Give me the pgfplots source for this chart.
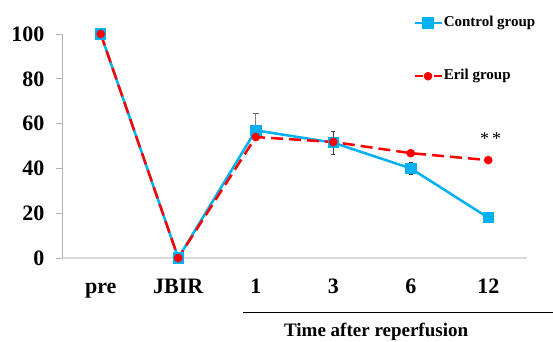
\documentclass[border=0pt]{standalone}
\usepackage{fontspec}
\setmainfont{Liberation Serif}
\usepackage{pgfplots}
\pgfplotsset{compat=1.18}
\definecolor{cgrp}{RGB}{0,176,240}
\definecolor{egrp}{RGB}{255,0,0}
\pgfplotsset{
  ctrlleg/.style={legend image code/.code={\draw[#1, mark repeat=2, mark phase=2] plot coordinates {(0pt,0pt) (13.5pt,0pt) (27pt,0pt)};}},
  erilleg/.style={legend image code/.code={\draw[#1, dash pattern=on 8pt off 11pt, mark repeat=2, mark phase=2] plot coordinates {(0pt,0pt) (13.5pt,0pt) (27pt,0pt)};}},
}
\begin{document}
\begin{tikzpicture}
\begin{axis}[name=ax, width=465pt, height=224pt, scale only axis,
  xmin=-0.5, xmax=5.5, ymin=0, ymax=100,
  xtick={0,...,5}, xticklabels={pre,JBIR,1,3,6,12},
  ytick={0,20,...,100},
  axis x line*=bottom, axis y line*=left,
  x axis line style={draw=black!15, line width=1.6pt, -},
  y axis line style={draw=black!30, line width=0.8pt, -},
  xtick style={draw=none},
  ytick style={draw=black!30, line width=0.8pt},
  tick align=outside, major tick length=6pt,
  /pgf/number format/assume math mode=true,
  tick label style={font=\fontsize{22}{26}\selectfont\bfseries},
  xticklabel style={anchor=base, yshift=-29pt},
  yticklabel style={xshift=-8pt},
  clip=false,
  legend cell align=left,
  legend style={at={(0.755,1.087)}, anchor=north west, draw=none, fill=none,
    inner sep=0pt, row sep=36pt, font=\fontsize{15}{18}\selectfont\bfseries,
    nodes={inner sep=1pt, text height=11pt, text depth=4pt}},
]
\addplot[color=cgrp, line width=2.5pt, mark=square*, mark size=4.5pt,
  mark options={solid}, ctrlleg]
  coordinates {(0,100) (1,0) (2,57) (3,51.5) (4,40) (5,18)};
\addlegendentry{Control group}
\addplot[color=egrp, line width=2.5pt, dash pattern=on 12pt off 6pt, mark=*, mark size=3pt,
  mark options={solid}, erilleg]
  coordinates {(0,100) (1,0) (2,54) (3,51.8) (4,46.8) (5,43.7)};
\addlegendentry{Eril group}
\addplot[draw=none, mark=none, forget plot,
  error bars/.cd, y dir=both, y explicit,
  error bar style={draw=black!75, line width=0.7pt},
  error mark options={draw=black!75, line width=0.7pt, mark size=2pt, rotate=90}]
  coordinates {(3,51.5) +- (0,5.2) (4,40) +- (0,2.5) (5,18) +- (0,1.9)};
\addplot[draw=none, mark=none, forget plot,
  error bars/.cd, y dir=plus, y explicit,
  error bar style={draw=black!50, line width=1.4pt},
  error mark options={draw=black!60, line width=0.9pt, mark size=3pt, rotate=90}]
  coordinates {(2,57) +- (0,7.5)};
\node[font=\fontsize{18}{20}\selectfont] at (axis cs:5.03,53.5) {*\,*};
\draw[black, line width=1pt] (axis cs:1.835,-24.55) -- (axis cs:5.84,-24.55);
\node[anchor=base, font=\fontsize{19}{22}\selectfont\bfseries] at (axis cs:3.553,-35.1) {Time after reperfusion};
\end{axis}
\pgfresetboundingbox
\path[use as bounding box] ([shift={(-62pt,-83pt)}]ax.south west) rectangle ([shift={(491pt,258pt)}]ax.south west);
\end{tikzpicture}
\end{document}
